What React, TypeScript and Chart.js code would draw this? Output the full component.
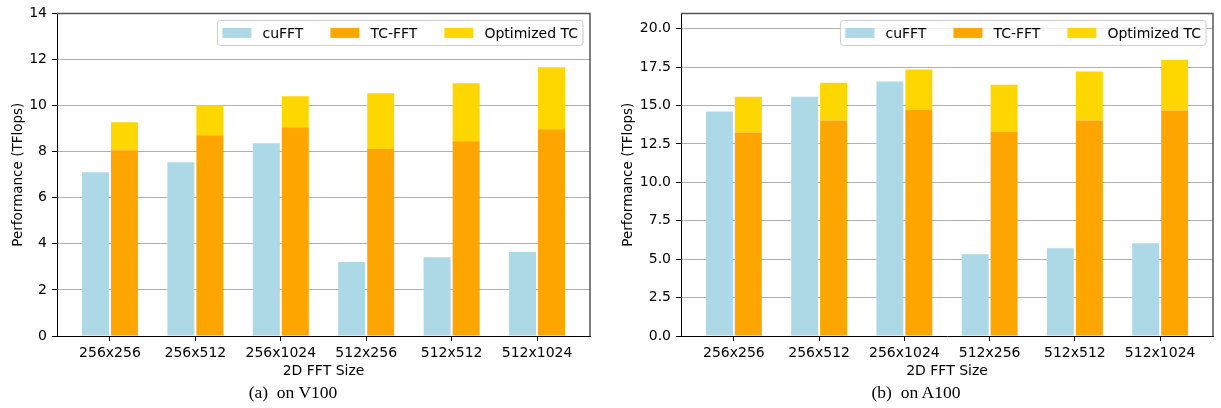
import React, { useEffect, useRef } from 'react';
import { Chart, registerables } from 'chart.js';

Chart.register(...registerables);

// ---- data ----
const categories = ['256x256', '256x512', '256x1024', '512x256', '512x512', '512x1024'];
const seriesNames = ['cuFFT', 'TC-FFT', 'Optimized TC'];

const v100CuFFT = [7.11, 7.54, 8.37, 3.21, 3.42, 3.64];
const v100TcFFT = [8.06, 8.71, 9.06, 8.11, 8.45, 8.97];
const v100OptimizedTC = [9.28, 10.01, 10.4, 10.53, 10.97, 11.66];

const a100CuFFT = [14.61, 15.58, 16.56, 5.32, 5.71, 6.04];
const a100TcFFT = [13.25, 14.03, 14.74, 13.31, 14.03, 14.68];
const a100OptimizedTC = [15.58, 16.49, 17.34, 16.36, 17.21, 17.99];

const v100YTicks = [0, 2, 4, 6, 8, 10, 12, 14];
const a100YTicks = [0, 2.5, 5, 7.5, 10, 12.5, 15, 17.5, 20];

const xAxisTitle = '2D FFT Size';
const yAxisTitle = 'Performance (TFlops)';

// ---- styles ----
const COLORS = ['#add8e6', '#ffa500', '#ffd700'];
const FONT = "'DejaVu Sans', sans-serif";
const FONT_SIZE = 14;

const framePlugin = {
  id: 'frameSpines',
  afterDatasetsDraw(chart: any) {
    const { ctx, chartArea } = chart;
    ctx.save();
    ctx.strokeStyle = '#555555';
    ctx.lineWidth = 1.5;
    ctx.beginPath();
    ctx.moveTo(chartArea.left, chartArea.top);
    ctx.lineTo(chartArea.right, chartArea.top);
    ctx.lineTo(chartArea.right, chartArea.bottom);
    ctx.stroke();
    ctx.restore();
  },
};

const legendPlugin = {
  id: 'insideLegend',
  afterDraw(chart: any) {
    const { ctx, chartArea } = chart;
    ctx.save();
    ctx.font = `${FONT_SIZE}px ${FONT}`;
    const sw = 29, sh = 10, gapText = 11, colGap = 27, pad = 5, h = 25;
    const widths = seriesNames.map((n) => ctx.measureText(n).width);
    let total = pad * 2 + colGap * (seriesNames.length - 1);
    widths.forEach((w) => (total += sw + gapText + w));
    const right = chartArea.right - 7;
    const top = chartArea.top + 7;
    const left = right - total;
    const r = 3;
    ctx.beginPath();
    ctx.moveTo(left + r, top);
    ctx.lineTo(right - r, top);
    ctx.quadraticCurveTo(right, top, right, top + r);
    ctx.lineTo(right, top + h - r);
    ctx.quadraticCurveTo(right, top + h, right - r, top + h);
    ctx.lineTo(left + r, top + h);
    ctx.quadraticCurveTo(left, top + h, left, top + h - r);
    ctx.lineTo(left, top + r);
    ctx.quadraticCurveTo(left, top, left + r, top);
    ctx.closePath();
    ctx.fillStyle = 'rgba(255,255,255,0.8)';
    ctx.fill();
    ctx.strokeStyle = '#cccccc';
    ctx.lineWidth = 1;
    ctx.stroke();
    let x = left + pad;
    const cy = top + h / 2;
    seriesNames.forEach((name, i) => {
      ctx.fillStyle = COLORS[i];
      ctx.fillRect(x, cy - sh / 2, sw, sh);
      ctx.fillStyle = '#000';
      ctx.textBaseline = 'middle';
      ctx.textAlign = 'left';
      ctx.fillText(name, x + sw + gapText, cy + 1);
      x += sw + gapText + widths[i] + colGap;
    });
    ctx.restore();
  },
};

type PanelProps = {
  left: number;
  width: number;
  yWidth: number;
  padRight: number;
  yMax: number;
  yTicks: number[];
  decimals: number;
  cu: number[];
  tc: number[];
  opt: number[];
  caption: string;
  captionCenter: number;
};

function Panel(p: PanelProps) {
  const ref = useRef<HTMLCanvasElement | null>(null);
  useEffect(() => {
    if (!ref.current) return;
    const chart = new Chart(ref.current, {
      type: 'bar',
      data: {
        datasets: [
          {
            label: seriesNames[0],
            data: p.cu.map((y, i) => ({ x: i, y })),
            backgroundColor: COLORS[0],
            stack: 'cu',
          },
          {
            label: seriesNames[1],
            data: p.tc.map((y, i) => ({ x: i, y })),
            backgroundColor: COLORS[1],
            stack: 'tc',
          },
          {
            label: seriesNames[2],
            data: p.opt.map((y, i) => ({ x: i, y: y - p.tc[i] })),
            backgroundColor: COLORS[2],
            stack: 'tc',
          },
        ],
      } as any,
      options: {
        animation: false,
        responsive: false,
        devicePixelRatio: 1,
        categoryPercentage: 0.679,
        barPercentage: 0.931,
        layout: { padding: { top: 13, right: p.padRight, left: 0, bottom: 0 } },
        plugins: { legend: { display: false }, tooltip: { enabled: false } },
        scales: {
          x: {
            type: 'linear',
            min: -0.62,
            max: 5.62,
            offset: false,
            stacked: true,
            afterBuildTicks: (s: any) => {
              s.ticks = categories.map((_, i) => ({ value: i }));
            },
            afterFit: (s: any) => {
              s.height = 72;
            },
            ticks: {
              callback: (v: any) => categories[v],
              color: '#000',
              font: { family: FONT, size: FONT_SIZE },
              padding: 4,
              autoSkip: false,
              maxRotation: 0,
            },
            grid: { offset: false, drawOnChartArea: false, drawTicks: true, tickLength: 5, tickColor: '#000' },
            border: { color: '#000', width: 1 },
            title: {
              display: true,
              text: xAxisTitle,
              color: '#000',
              font: { family: FONT, size: FONT_SIZE },
              padding: { top: 0, bottom: 28 },
            },
          },
          y: {
            type: 'linear',
            min: 0,
            max: p.yMax,
            stacked: true,
            afterBuildTicks: (s: any) => {
              s.ticks = p.yTicks.map((value) => ({ value }));
            },
            afterFit: (s: any) => {
              s.width = p.yWidth;
            },
            ticks: {
              callback: (v: any) => Number(v).toFixed(p.decimals),
              color: '#000',
              font: { family: FONT, size: FONT_SIZE },
              padding: 5,
            },
            grid: { color: '#b0b0b0', lineWidth: 1, drawTicks: true, tickLength: 5, tickColor: '#000' },
            border: { color: '#000', width: 1 },
            title: {
              display: true,
              text: yAxisTitle,
              color: '#000',
              font: { family: FONT, size: FONT_SIZE - 0.5 },
              padding: { top: 10, bottom: 0 },
            },
          },
        },
      } as any,
      plugins: [framePlugin, legendPlugin],
    });
    return () => chart.destroy();
  }, []);
  return (
    <>
      <canvas
        ref={ref}
        width={p.width}
        height={408}
        style={{ position: 'absolute', left: p.left, top: 0, width: p.width, height: 408 }}
      />
      <div
        style={{
          position: 'absolute',
          left: p.captionCenter - 150,
          width: 300,
          top: 381,
          lineHeight: '22px',
          textAlign: 'center',
          fontFamily: "'Liberation Serif', serif",
          fontSize: 17.5,
          whiteSpace: 'pre',
          color: '#000',
        }}
      >
        {p.caption}
      </div>
    </>
  );
}

export default function App() {
  return (
    <div style={{ position: 'absolute', left: 0, top: 0, width: 1221, height: 408, background: '#fff', overflow: 'hidden' }}>
      <Panel
        left={0}
        width={610}
        yWidth={57}
        padRight={20}
        yMax={14}
        yTicks={v100YTicks}
        decimals={0}
        cu={v100CuFFT}
        tc={v100TcFFT}
        opt={v100OptimizedTC}
        caption={'(a)  on V100'}
        captionCenter={293}
      />
      <Panel
        left={610}
        width={611}
        yWidth={71}
        padRight={8}
        yMax={21}
        yTicks={a100YTicks}
        decimals={1}
        cu={a100CuFFT}
        tc={a100TcFFT}
        opt={a100OptimizedTC}
        caption={'(b)  on A100'}
        captionCenter={916}
      />
    </div>
  );
}
